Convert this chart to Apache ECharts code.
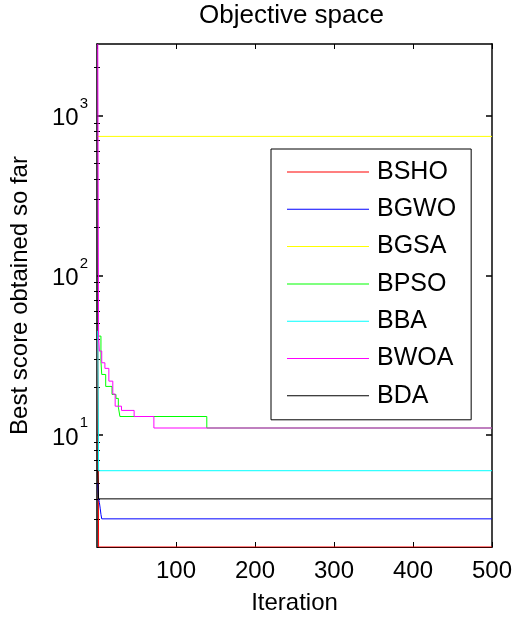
<!DOCTYPE html>
<html>
<head>
<meta charset="utf-8">
<script src="https://cdn.jsdelivr.net/npm/echarts@6/dist/echarts.min.js"></script>
<style>
html,body{margin:0;padding:0;background:#fff;}
#chart{width:515px;height:618px;}
</style>
</head>
<body>
<div id="chart"></div>
<script>
// Data (best-so-far curves, stored at the iterations where the value changes)
const seriesNames = ['BSHO', 'BGWO', 'BGSA', 'BPSO', 'BBA', 'BWOA', 'BDA'];
const seriesColors = ['#ff0000', '#0000ff', '#ffff00', '#00ff00', '#00ffff', '#ff00ff', '#000000'];

const bshoIter = [1, 2, 500];
const bshoVal  = [40, 2, 2];
const bgwoIter = [1, 2, 3, 4, 5, 6, 500];
const bgwoVal  = [5, 4, 3.8, 3.5, 3.2, 3, 3];
const bgsaIter = [1, 500];
const bgsaVal  = [740, 740];
const bpsoIter = [1, 5, 6, 11, 19, 24, 27, 29, 139, 500];
const bpsoVal  = [41.7, 29, 24, 20.2, 18, 17, 15, 13.1, 11.1, 11.1];
const bbaIter  = [1, 2, 500];
const bbaVal   = [45, 6, 6];
const bwoaIter = [1, 2, 3, 6, 10, 15, 20, 23, 31, 47, 72, 500];
const bwoaVal  = [2800, 41, 33.6, 28.4, 26.2, 21.8, 18.1, 15.2, 14.3, 13.1, 11.1, 11.1];
const bdaIter  = [1, 2, 500];
const bdaVal   = [6, 4, 4];

const xTicks = [100, 200, 300, 400, 500];
const yMajorTicks = [10, 100, 1000];
const yMinorTicks = [3, 4, 5, 6, 7, 8, 9, 20, 30, 40, 50, 60, 70, 80, 90,
                     200, 300, 400, 500, 600, 700, 800, 900, 2000];
const yMin = 2, yMax = 2800;

const iters = [bshoIter, bgwoIter, bgsaIter, bpsoIter, bbaIter, bwoaIter, bdaIter];
const vals  = [bshoVal, bgwoVal, bgsaVal, bpsoVal, bbaVal, bwoaVal, bdaVal];

const FONT = 'Liberation Sans, Arial, sans-serif';

const chart = echarts.init(document.getElementById('chart'), null, {renderer: 'canvas'});

const series = seriesNames.map((name, i) => ({
  name: name,
  type: 'line',
  step: 'end',
  symbol: 'none',
  showSymbol: false,
  xAxisIndex: 0,
  yAxisIndex: 0,
  data: iters[i].map((it, k) => [it, vals[i][k]]),
  lineStyle: {color: seriesColors[i], width: 1},
  itemStyle: {color: seriesColors[i]},
  emphasis: {disabled: true},
  animation: false
}));

function tickAxis(position, values, len, color) {
  return {
    type: 'log', logBase: 10, min: yMin, max: yMax,
    position: position,
    axisLine: {show: false},
    axisTick: {show: true, inside: true, length: len, customValues: values, lineStyle: {color: color, width: 1}},
    axisLabel: {show: false},
    splitLine: {show: false}
  };
}

const option = {
  backgroundColor: '#ffffff',
  animation: false,
  title: {
    text: 'Objective space',
    left: 199,
    top: 3,
    padding: 0,
    textStyle: {fontFamily: FONT, fontSize: 26, fontWeight: 'normal', color: '#000'}
  },
  grid: {left: 97, right: 23, top: 44, bottom: 71, containLabel: false, outerBoundsMode: 'none'},
  legend: {
    data: seriesNames.map(n => ({name: n, icon: 'rect'})),
    orient: 'vertical',
    left: 271,
    top: 149,
    padding: [8, 15, 9, 16],
    itemWidth: 82,
    itemHeight: 1,
    itemGap: 7.3,
    backgroundColor: '#ffffff',
    borderColor: '#000000',
    borderWidth: 1,
    textStyle: {fontFamily: FONT, fontSize: 25, lineHeight: 25, color: '#000', padding: [5, 0, 0, 3]}
  },
  xAxis: [{
    type: 'value',
    min: 0, max: 500, interval: 100,
    position: 'bottom',
    name: 'Iteration',
    nameLocation: 'middle',
    nameGap: 44,
    nameTextStyle: {fontFamily: FONT, fontSize: 24, color: '#000'},
    axisLine: {show: true, onZero: false, lineStyle: {color: '#000', width: 1}},
    axisTick: {show: true, inside: true, length: 5, lineStyle: {color: '#000'}},
    axisLabel: {
      show: true, margin: 12, showMinLabel: false,
      fontFamily: FONT, fontSize: 24, color: '#000',
      formatter: v => (xTicks.indexOf(v) >= 0 ? String(v) : '')
    },
    splitLine: {show: false}
  }, {
    type: 'value',
    min: 0, max: 500, interval: 100,
    position: 'top',
    axisLine: {show: true, onZero: false, lineStyle: {color: '#000', width: 1.5}},
    axisTick: {show: true, inside: true, length: 5, lineStyle: {color: '#000'}},
    axisLabel: {show: false},
    splitLine: {show: false}
  }],
  yAxis: [{
    type: 'log',
    logBase: 10,
    min: yMin, max: yMax,
    position: 'left',
    name: 'Best score obtained so far',
    nameLocation: 'middle',
    nameGap: 65,
    nameTextStyle: {fontFamily: FONT, fontSize: 24, color: '#000'},
    axisLine: {show: true, onZero: false, lineStyle: {color: '#000', width: 1.5}},
    axisTick: {show: true, inside: true, length: 6, customValues: yMajorTicks, lineStyle: {color: '#000', width: 1.5}},
    axisLabel: {
      show: true, margin: 9, showMinLabel: false, showMaxLabel: false,
      formatter: function (v) {
        const e = Math.log10(v);
        if (Math.abs(e - Math.round(e)) > 1e-6) return '';
        return '{b|10}{s|' + Math.round(e) + '}';
      },
      rich: {
        b: {fontFamily: FONT, fontSize: 24, color: '#000', padding: [6, 0, 0, 0], verticalAlign: 'middle'},
        s: {fontFamily: FONT, fontSize: 15, color: '#000', padding: [0, 0, 24, 1], verticalAlign: 'middle'}
      }
    },
    splitLine: {show: false}
  }, {
    type: 'log',
    logBase: 10,
    min: yMin, max: yMax,
    position: 'right',
    axisLine: {show: true, onZero: false, lineStyle: {color: '#444', width: 2}},
    axisTick: {show: true, inside: true, length: 6, customValues: yMajorTicks, lineStyle: {color: '#000', width: 1.5}},
    axisLabel: {show: false},
    splitLine: {show: false}
  },
  tickAxis('left', yMinorTicks, 3, '#000'),
  tickAxis('right', yMinorTicks, 3, '#000')
  ],
  series: series
};

chart.setOption(option);
</script>
</body>
</html>
